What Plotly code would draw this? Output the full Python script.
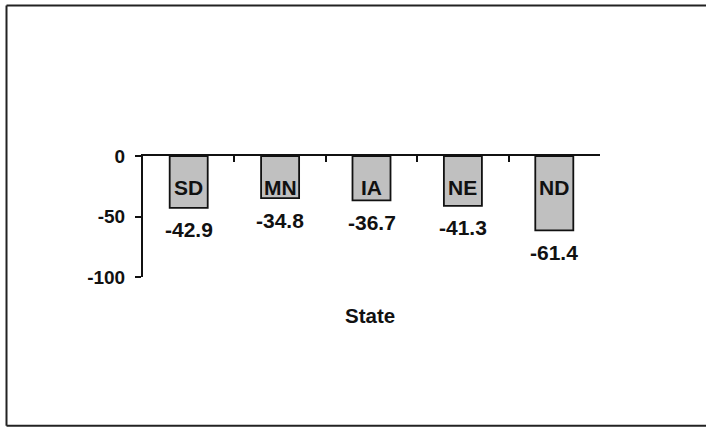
import plotly.graph_objects as go

# Change by state (values shown below each bar)
states = ["SD", "MN", "IA", "NE", "ND"]
values = [-42.9, -34.8, -36.7, -41.3, -61.4]

y_tick_vals = [0, -50, -100]
y_tick_text = ["0", "-50", "-100"]
x_title = "State"

FONT = "Liberation Sans, Arial, sans-serif"
W, H = 706, 427
L, R, T, B = 143, 106, 156, 150
PW, PH = W - L - R, H - T - B


def px_x(px):
    return (px - L) / PW


def px_y(py):
    return (H - B - py) / PH


fig = go.Figure()
fig.add_trace(go.Bar(
    x=states,
    y=values,
    base=0,
    marker=dict(color="#c0c0c0", line=dict(color="#111111", width=1.8)),
    hoverinfo="skip",
))

annotations = []
for s, v in zip(states, values):
    # state name inside the top of each bar
    annotations.append(dict(
        x=s, y=0, xref="x", yref="y", text=f"<b>{s}</b>", showarrow=False,
        yanchor="middle", yshift=-31,
        font=dict(family=FONT, size=21, color="#111111"),
    ))
    # value label under each bar
    annotations.append(dict(
        x=s, y=v, xref="x", yref="y", text=f"<b>{v:.1f}</b>", showarrow=False,
        yanchor="middle", yshift=-22,
        font=dict(family=FONT, size=21, color="#111111"),
    ))

annotations.append(dict(
    x=0.5, y=0, xref="paper", yref="paper", text=f"<b>{x_title}</b>",
    showarrow=False, xanchor="center", yanchor="middle", xshift=-2, yshift=-38,
    font=dict(family=FONT, size=20.5, color="#111111"),
))

# outer frame (left, top, bottom edges)
frame = dict(color="#222222", width=2)
shapes = [
    dict(type="line", xref="paper", yref="paper",
         x0=px_x(6.5), x1=px_x(6.5), y0=px_y(5.5), y1=px_y(425.7), line=frame),
    dict(type="line", xref="paper", yref="paper",
         x0=px_x(6.5), x1=px_x(707), y0=px_y(5.5), y1=px_y(5.5), line=frame),
    dict(type="line", xref="paper", yref="paper",
         x0=px_x(6.5), x1=px_x(707), y0=px_y(425.7), y1=px_y(425.7), line=frame),
]

fig.update_layout(
    width=W, height=H,
    margin=dict(l=L, r=R, t=T, b=B, pad=0),
    paper_bgcolor="white", plot_bgcolor="white",
    showlegend=False,
    bargap=0.584,
    annotations=annotations,
    shapes=shapes,
    xaxis=dict(
        type="category", side="top", showline=True, linecolor="#111111",
        linewidth=2, ticks="inside", tickson="boundaries", ticklen=6,
        tickwidth=2, tickcolor="#111111", showticklabels=False,
        showgrid=False, zeroline=False, fixedrange=True,
    ),
    yaxis=dict(
        range=[-100, 0], showline=True, linecolor="#111111", linewidth=2,
        ticks="outside", ticklen=6, tickwidth=2, tickcolor="#111111",
        tickvals=y_tick_vals, ticktext=[f"<b>{t}</b>" for t in y_tick_text],
        tickfont=dict(family=FONT, size=19, color="#111111"),
        ticklabelstandoff=6,
        showgrid=False, zeroline=False, fixedrange=True,
    ),
)

fig.write_html("out.html")
